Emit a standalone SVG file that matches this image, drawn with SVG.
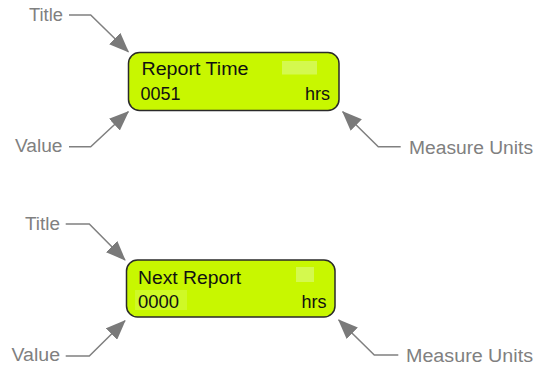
<svg xmlns="http://www.w3.org/2000/svg" width="535" height="369" viewBox="0 0 535 369">
<style>
.lbl{font-family:"Liberation Sans",Arial,sans-serif;font-size:18px;fill:#808080}
.txt{font-family:"Liberation Sans",Arial,sans-serif;font-size:18px;fill:#111}
.box{fill:#c8f700;stroke:#2a2a2a;stroke-width:1.5}
.hl{fill:#d4f94e}
.hl2{fill:#cff926}
.con{fill:none;stroke:#808080;stroke-width:1.5;marker-end:url(#ah)}
</style>
<defs>
<marker id="ah" viewBox="0 0 20 16" refX="19" refY="8" markerWidth="20" markerHeight="16" markerUnits="userSpaceOnUse" orient="auto">
<path d="M0,0 L20,8 L0,16 z" fill="#7a7a7a"/>
</marker>
</defs>
<rect width="535" height="369" fill="#fff"/>
<g id="node-report-time">
<rect class="box" x="128.5" y="52.5" width="210.5" height="58" rx="11"/>
<rect class="hl" x="282" y="61" width="35" height="13.5"/>
<text class="txt" x="141.5" y="75" textLength="107" lengthAdjust="spacingAndGlyphs">Report Time</text>
<text class="txt" x="140.5" y="100" textLength="40" lengthAdjust="spacingAndGlyphs">0051</text>
<text class="txt" x="330" y="100" text-anchor="end">hrs</text>
</g>
<g id="node-next-report">
<rect class="box" x="126.5" y="260" width="208.5" height="57" rx="11"/>
<rect class="hl" x="296" y="267" width="18" height="15"/>
<rect class="hl2" x="135" y="290" width="52" height="20"/>
<text class="txt" x="138" y="283.5" textLength="103" lengthAdjust="spacingAndGlyphs">Next Report</text>
<text class="txt" x="138" y="308" textLength="41" lengthAdjust="spacingAndGlyphs">0000</text>
<text class="txt" x="326.5" y="308" text-anchor="end">hrs</text>
</g>
<g id="labels">
<text class="lbl" x="29" y="21" textLength="34" lengthAdjust="spacingAndGlyphs">Title</text>
<text class="lbl" x="15" y="152" textLength="47.5" lengthAdjust="spacingAndGlyphs">Value</text>
<text class="lbl" x="409" y="153.5" textLength="124" lengthAdjust="spacingAndGlyphs">Measure Units</text>
<text class="lbl" x="25" y="229.5" textLength="35" lengthAdjust="spacingAndGlyphs">Title</text>
<text class="lbl" x="11.5" y="361" textLength="48.5" lengthAdjust="spacingAndGlyphs">Value</text>
<text class="lbl" x="406" y="362" textLength="127" lengthAdjust="spacingAndGlyphs">Measure Units</text>
</g>
<g id="connectors">
<path class="con" d="M69,15 H90.7 L128.3,51.7"/>
<path class="con" d="M69,146.7 H90.7 L128.3,111.7"/>
<path class="con" d="M400.7,146.7 H378.3 L342.7,111.7"/>
<path class="con" d="M65.7,224 H89.3 L125,260"/>
<path class="con" d="M65.7,356 H89.3 L125,320.7"/>
<path class="con" d="M398.3,355 H374.3 L338.7,320"/>
</g>
</svg>
